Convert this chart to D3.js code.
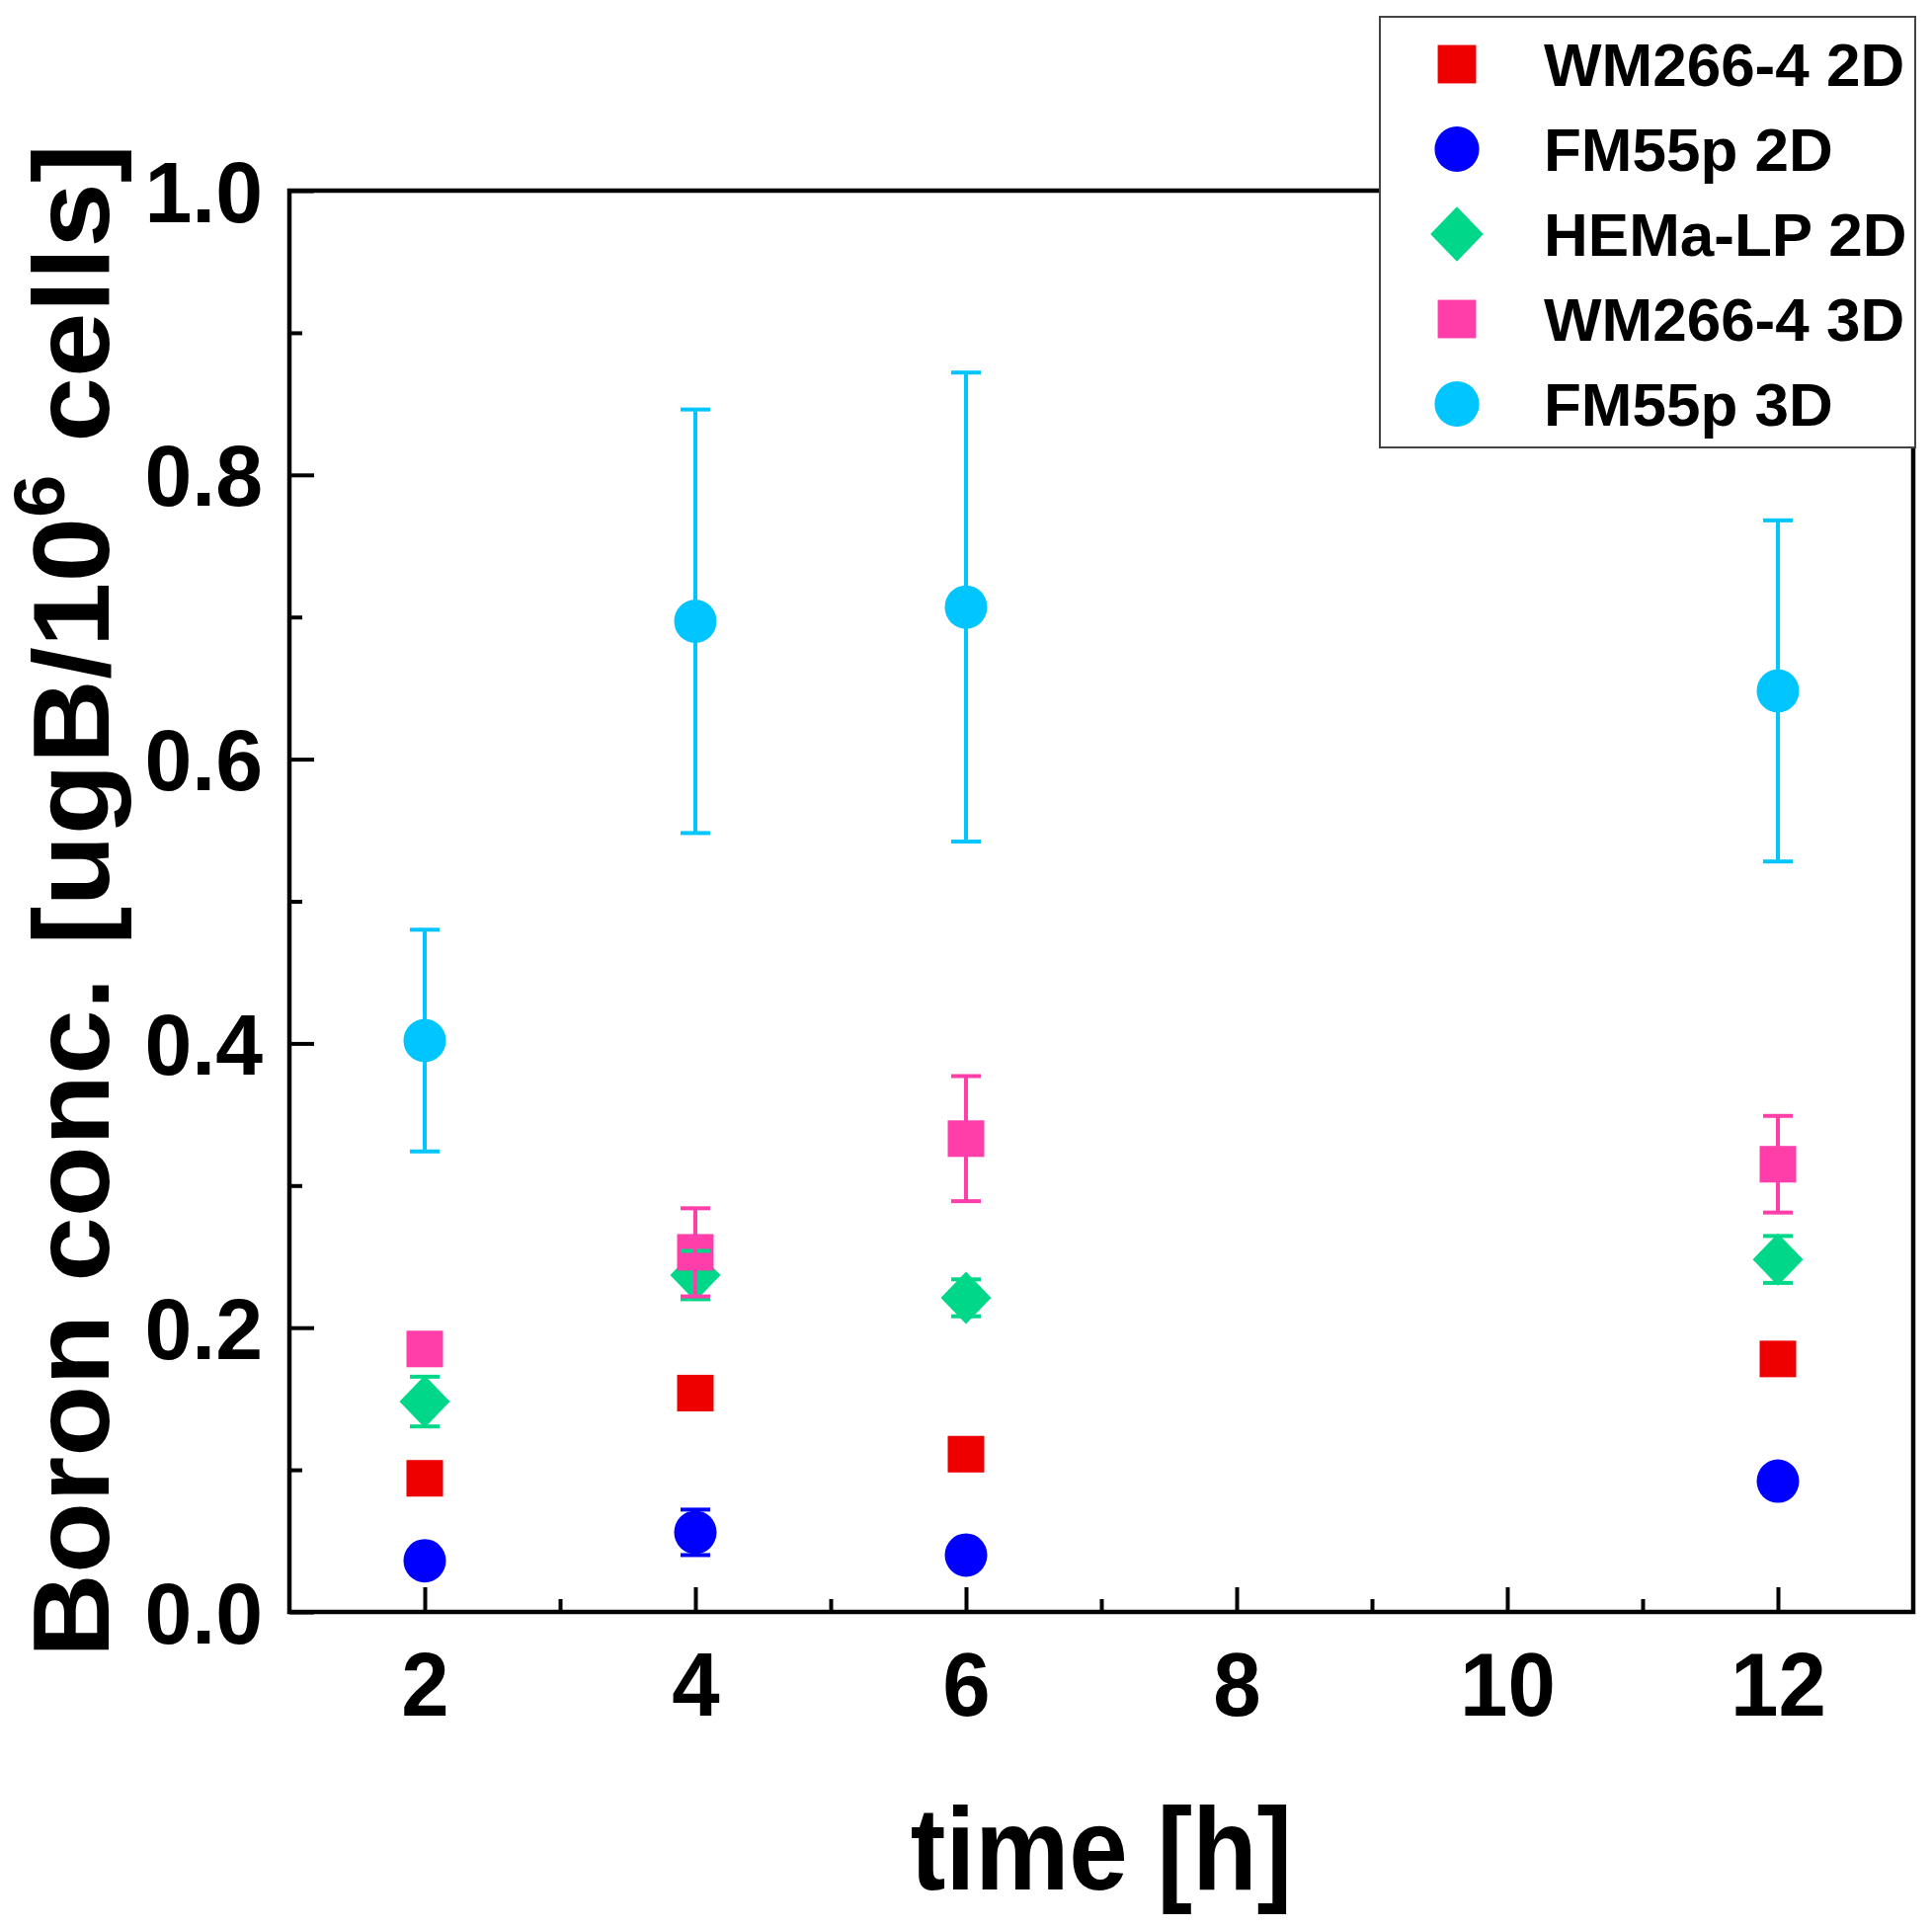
<!DOCTYPE html>
<html>
<head>
<meta charset="utf-8">
<script src="https://cdn.jsdelivr.net/npm/d3@7"></script>
<style>
  body { margin: 0; background: #fff; }
  text { font-family: Arial, "Liberation Sans", sans-serif; font-weight: bold; fill: #000; }
</style>
</head>
<body>
<div id="chart"></div>
<script>
// data
var times = [2, 4, 6, 12];

var wm2d_mean = [0.094, 0.154, 0.111, 0.178];
var wm2d_err = [0.011, 0.011, 0.011, 0.011];
var fm2d_mean = [0.036, 0.056, 0.040, 0.092];
var fm2d_err = [0.008, 0.016, 0.008, 0.008];
var hema2d_mean = [0.148, 0.237, 0.221, 0.248];
var hema2d_err = [0.0175, 0.017, 0.013, 0.0165];
var wm3d_mean = [0.185, 0.253, 0.333, 0.315];
var wm3d_err = [0.011, 0.031, 0.044, 0.034];
var fm3d_mean = [0.402, 0.697, 0.707, 0.648];
var fm3d_err = [0.078, 0.149, 0.165, 0.120];

var series_names = ['WM266-4 2D', 'FM55p 2D', 'HEMa-LP 2D', 'WM266-4 3D', 'FM55p 3D'];
var series_colors = ['#ee0000', '#0000ff', '#00d788', '#ff3eaa', '#00c5ff'];
var series_shapes = ['square', 'circle', 'diamond', 'square', 'circle'];

var x_ticks = [2, 4, 6, 8, 10, 12];
var x_minor = [3, 5, 7, 9, 11];
var y_ticks = [0, 0.2, 0.4, 0.6, 0.8, 1.0];
var y_minor = [0.1, 0.3, 0.5, 0.7, 0.9];

var chart_width = 1956;
var chart_height = 1952;
var plot = { left: 293, right: 1937, top: 193, bottom: 1632 };

var series = series_names.map(function(name, i) {
  var means = [wm2d_mean, fm2d_mean, hema2d_mean, wm3d_mean, fm3d_mean][i];
  var errs = [wm2d_err, fm2d_err, hema2d_err, wm3d_err, fm3d_err][i];
  return {
    name: name,
    color: series_colors[i],
    shape: series_shapes[i],
    points: times.map(function(t, j) { return { t: t, m: means[j], e: errs[j] }; })
  };
});

var svg = d3.select('#chart')
  .append('svg')
  .attr('width', chart_width)
  .attr('height', chart_height);

// scales
var x_scale = d3.scaleLinear().domain([1, 13]).range([plot.left, plot.right]);
var y_scale = d3.scaleLinear().domain([0, 1]).range([plot.bottom, plot.top]);

// axes: major ticks inward, minor ticks shorter
var x_axis = d3.axisBottom(x_scale).tickValues(x_ticks).tickSize(-25).tickFormat(d3.format('d'));
var x_axis_minor = d3.axisBottom(x_scale).tickValues(x_minor).tickSize(-13).tickFormat('');
var y_axis = d3.axisLeft(y_scale).tickValues(y_ticks).tickSize(-25).tickFormat(d3.format('.1f'));
var y_axis_minor = d3.axisLeft(y_scale).tickValues(y_minor).tickSize(-13).tickFormat('');

function style_axis(g) {
  g.select('.domain').remove();
  g.selectAll('.tick line').attr('stroke', '#000').attr('stroke-width', 4);
}

svg.append('g')
  .attr('transform', 'translate(0,' + plot.bottom + ')')
  .call(x_axis)
  .call(style_axis)
  .call(function(g) {
    g.selectAll('.tick text')
      .attr('y', null).attr('dy', null)
      .attr('font-size', 87)
      .attr('fill', '#000')
      .attr('transform', 'translate(0,105) scale(1,1.04)');
  });

svg.append('g')
  .attr('transform', 'translate(0,' + plot.bottom + ')')
  .call(x_axis_minor)
  .call(style_axis);

svg.append('g')
  .attr('transform', 'translate(' + plot.left + ',0)')
  .call(y_axis)
  .call(style_axis)
  .call(function(g) {
    g.selectAll('.tick text')
      .attr('x', null).attr('dy', null)
      .attr('font-size', 86)
      .attr('fill', '#000')
      .attr('transform', 'translate(-27,31) scale(1,1.01)');
  });

svg.append('g')
  .attr('transform', 'translate(' + plot.left + ',0)')
  .call(y_axis_minor)
  .call(style_axis);

// frame
svg.append('rect')
  .attr('x', plot.left)
  .attr('y', plot.top)
  .attr('width', plot.right - plot.left)
  .attr('height', plot.bottom - plot.top)
  .attr('fill', 'none')
  .attr('stroke', '#000')
  .attr('stroke-width', 4.5);

// markers
function draw_marker(g, shape, cx, cy, color, s) {
  if (shape === 'square') {
    g.append('rect')
      .attr('x', cx - 18.5 * s).attr('y', cy - 18.5 * s)
      .attr('width', 37 * s).attr('height', 37 * s)
      .attr('fill', color);
  } else if (shape === 'circle') {
    g.append('ellipse')
      .attr('cx', cx).attr('cy', cy)
      .attr('rx', 21.5 * s).attr('ry', 22 * s)
      .attr('fill', color);
  } else {
    g.append('path')
      .attr('d', 'M' + cx + ',' + (cy - 26.5 * s) + 'L' + (cx + 25.5 * s) + ',' + cy +
        'L' + cx + ',' + (cy + 26.5 * s) + 'L' + (cx - 25.5 * s) + ',' + cy + 'Z')
      .attr('fill', color);
  }
}

var marks = svg.append('g');
series.forEach(function(s) {
  s.points.forEach(function(p) {
    draw_marker(marks, s.shape, x_scale(p.t), y_scale(p.m), s.color, 1);
  });
});

// error bars on top of markers
var cap = 15;
var errs = svg.append('g').attr('stroke-width', 4);
series.forEach(function(s) {
  s.points.forEach(function(p) {
    var x = x_scale(p.t);
    var y0 = y_scale(p.m - p.e);
    var y1 = y_scale(p.m + p.e);
    errs.append('line').attr('x1', x).attr('x2', x).attr('y1', y0).attr('y2', y1).attr('stroke', s.color);
    errs.append('line').attr('x1', x - cap).attr('x2', x + cap).attr('y1', y0).attr('y2', y0).attr('stroke', s.color);
    errs.append('line').attr('x1', x - cap).attr('x2', x + cap).attr('y1', y1).attr('y2', y1).attr('stroke', s.color);
  });
});

// axis titles
svg.append('text')
  .attr('text-anchor', 'middle')
  .attr('font-size', 107)
  .attr('transform', 'translate(' + ((plot.left + plot.right) / 2) + ',1913) scale(1,1.11)')
  .text('time [h]');

var y_title = svg.append('text')
  .attr('text-anchor', 'middle')
  .attr('font-size', 109)
  .attr('transform', 'translate(110,912) scale(1,1.083) rotate(-90)');
y_title.append('tspan').text('Boron conc. [ugB/10');
y_title.append('tspan').attr('font-size', 72).attr('dy', -45).text('6');
y_title.append('tspan').attr('dy', 45).text(' cells]');

// legend
var legend = svg.append('g');
legend.append('rect')
  .attr('x', 1397).attr('y', 17)
  .attr('width', 542).attr('height', 436)
  .attr('fill', '#fff')
  .attr('stroke', '#444')
  .attr('stroke-width', 2);

series.forEach(function(s, i) {
  var row_y = 65 + i * 86;
  draw_marker(legend, s.shape, 1475, row_y, s.color, 1.05);
  legend.append('text')
    .attr('font-size', 62)
    .attr('transform', 'translate(1563,' + (row_y + 21.5) + ') scale(1,1.0)')
    .text(s.name);
});
</script>
</body>
</html>
